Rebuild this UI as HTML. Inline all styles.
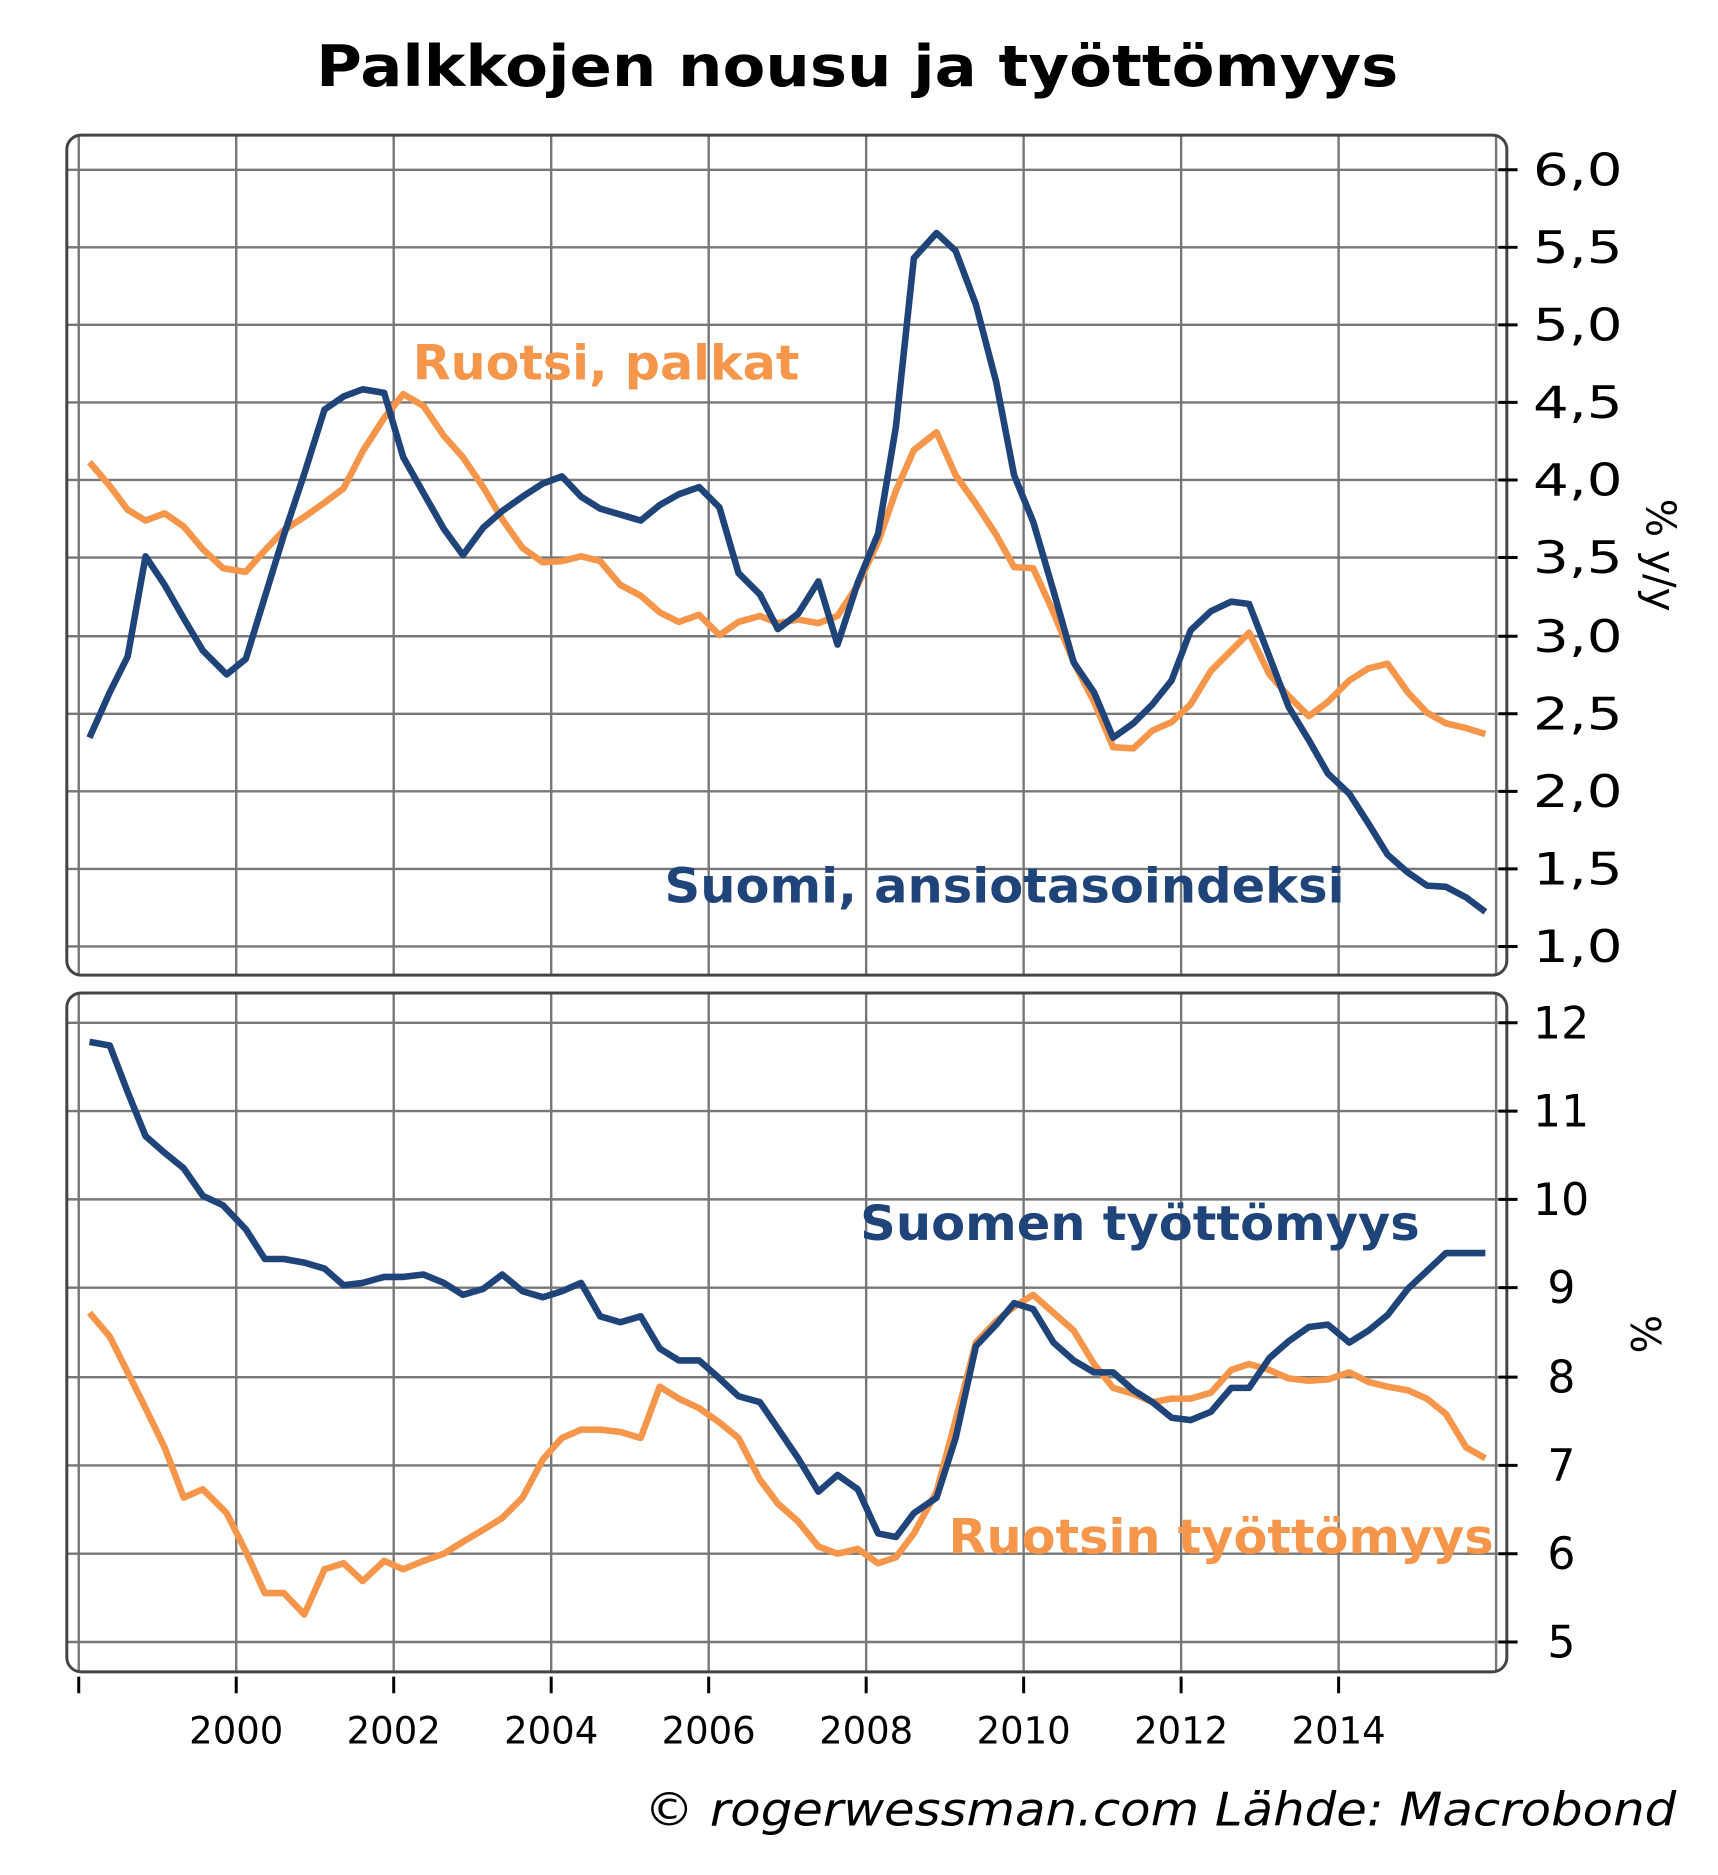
<!DOCTYPE html>
<html><head><meta charset="utf-8"><style>html,body{margin:0;padding:0;background:#fff}svg{display:block}</style></head><body>
<svg width="1718" height="1875" viewBox="0 0 1440 1571" xmlns="http://www.w3.org/2000/svg" font-family="DejaVu Sans, Liberation Sans, sans-serif">
<text x="265" y="72" textLength="907" lengthAdjust="spacingAndGlyphs" font-size="48" font-weight="bold">Palkkojen nousu ja työttömyys</text>
<g stroke="#777" stroke-width="2">
<line x1="56" x2="1263" y1="142" y2="142"/><line x1="56" x2="1263" y1="207" y2="207"/><line x1="56" x2="1263" y1="272" y2="272"/><line x1="56" x2="1263" y1="337" y2="337"/><line x1="56" x2="1263" y1="402" y2="402"/><line x1="56" x2="1263" y1="467" y2="467"/><line x1="56" x2="1263" y1="533" y2="533"/><line x1="56" x2="1263" y1="598" y2="598"/><line x1="56" x2="1263" y1="663" y2="663"/><line x1="56" x2="1263" y1="728" y2="728"/><line x1="56" x2="1263" y1="793" y2="793"/>
<line x1="56" x2="1263" y1="857" y2="857"/><line x1="56" x2="1263" y1="931" y2="931"/><line x1="56" x2="1263" y1="1005" y2="1005"/><line x1="56" x2="1263" y1="1079" y2="1079"/><line x1="56" x2="1263" y1="1154" y2="1154"/><line x1="56" x2="1263" y1="1228" y2="1228"/><line x1="56" x2="1263" y1="1302" y2="1302"/><line x1="56" x2="1263" y1="1376" y2="1376"/>
<path d="M66 113V817M198 113V817M330 113V817M462 113V817M594 113V817M726 113V817M858 113V817M990 113V817M1122 113V817M1254 113V817"/>
<path d="M66 832V1401M198 832V1401M330 832V1401M462 832V1401M594 832V1401M726 832V1401M858 832V1401M990 832V1401M1122 832V1401M1254 832V1401"/>
</g>
<rect x="56" y="113" width="1207" height="704" rx="12" fill="none" stroke="#444" stroke-width="2.5"/>
<rect x="56" y="832" width="1207" height="569" rx="12" fill="none" stroke="#444" stroke-width="2.5"/>
<g stroke="#000" stroke-width="2.5">
<path d="M1256 142h16M1256 207h16M1256 272h16M1256 337h16M1256 402h16M1256 467h16M1256 533h16M1256 598h16M1256 663h16M1256 728h16M1256 793h16"/>
<path d="M1256 857h16M1256 931h16M1256 1005h16M1256 1079h16M1256 1154h16M1256 1228h16M1256 1302h16M1256 1376h16"/>
<path d="M66 1405v14M198 1405v14M330 1405v14M462 1405v14M594 1405v14M726 1405v14M858 1405v14M990 1405v14M1122 1405v14"/>
</g>
<g font-size="37" fill="#000">
<text x="1285" y="155" textLength="75" lengthAdjust="spacingAndGlyphs">6,0</text>
<text x="1285" y="220" textLength="75" lengthAdjust="spacingAndGlyphs">5,5</text>
<text x="1285" y="285" textLength="75" lengthAdjust="spacingAndGlyphs">5,0</text>
<text x="1285" y="350" textLength="75" lengthAdjust="spacingAndGlyphs">4,5</text>
<text x="1285" y="415" textLength="75" lengthAdjust="spacingAndGlyphs">4,0</text>
<text x="1285" y="480" textLength="75" lengthAdjust="spacingAndGlyphs">3,5</text>
<text x="1285" y="546" textLength="75" lengthAdjust="spacingAndGlyphs">3,0</text>
<text x="1285" y="611" textLength="75" lengthAdjust="spacingAndGlyphs">2,5</text>
<text x="1285" y="676" textLength="75" lengthAdjust="spacingAndGlyphs">2,0</text>
<text x="1285" y="741" textLength="75" lengthAdjust="spacingAndGlyphs">1,5</text>
<text x="1285" y="806" textLength="75" lengthAdjust="spacingAndGlyphs">1,0</text>
<text x="1285" y="870">12</text><text x="1285" y="944">11</text><text x="1285" y="1018">10</text><text x="1297" y="1092">9</text><text x="1297" y="1167">8</text><text x="1297" y="1241">7</text><text x="1297" y="1315">6</text><text x="1297" y="1389">5</text>
</g>
<text transform="translate(1380,465) rotate(90)" text-anchor="middle" font-size="34">% y/y</text>
<text transform="translate(1367,1118) rotate(90)" text-anchor="middle" font-size="34">%</text>
<g font-size="31" text-anchor="middle">
<text x="198" y="1461">2000</text><text x="330" y="1461">2002</text><text x="462" y="1461">2004</text><text x="594" y="1461">2006</text><text x="726" y="1461">2008</text><text x="858" y="1461">2010</text><text x="990" y="1461">2012</text><text x="1122" y="1461">2014</text>
</g>
<g fill="none" stroke-width="5.5" stroke-linejoin="round">
<polyline stroke="#f5964a" points="75,387 92,407 107,427 122,436 138,430 154,441 170,460 187,476 206,479 222,461 238,444 255,433 272,421 288,409 304,378 322,350 338,330 355,340 372,365 388,383 405,408 421,435 438,459 455,471 471,470 487,466 503,470 520,490 537,499 553,513 569,521 586,515 603,532 619,521 637,516 652,522 669,519 686,522 702,516 719,490 736,454 751,411 766,377 785,362 801,398 818,422 835,448 850,475 866,476 883,513 900,555 917,588 933,626 950,627 966,612 982,605 998,590 1015,562 1032,545 1047,530 1064,565 1080,583 1097,600 1113,588 1131,570 1147,560 1163,556 1180,580 1196,597 1212,606 1229,610 1245,615"/>
<polyline stroke="#1f4479" points="75,618 92,580 107,550 122,466 138,490 154,518 170,545 190,565 206,552 222,500 238,448 255,397 272,343 288,332 304,326 322,329 338,383 355,413 372,443 388,465 405,442 421,428 438,416 455,405 471,399 487,416 503,426 520,431 537,436 553,423 569,414 586,408 603,425 619,480 637,498 652,527 669,514 686,487 702,540 719,488 736,447 751,357 766,216 785,195 801,210 818,255 835,320 850,398 866,437 883,495 900,555 917,580 933,618 950,606 966,590 982,570 998,528 1015,512 1032,504 1047,506 1064,550 1080,592 1097,620 1113,648 1131,665 1147,690 1163,716 1180,731 1196,742 1212,743 1229,752 1245,764"/>
<polyline stroke="#f5964a" points="75,1100 92,1120 107,1150 122,1180 138,1213 154,1255 170,1248 190,1268 206,1300 222,1335 238,1335 255,1353 272,1315 288,1310 304,1325 322,1308 338,1315 355,1308 372,1302 388,1292 405,1282 421,1272 438,1255 455,1223 471,1205 487,1198 503,1198 520,1200 537,1205 553,1162 569,1172 586,1180 603,1192 619,1205 637,1240 652,1260 669,1275 686,1296 702,1302 719,1298 736,1310 751,1305 766,1285 785,1250 801,1190 818,1125 835,1107 850,1095 866,1085 883,1100 900,1115 917,1143 933,1163 950,1168 966,1175 982,1172 998,1172 1015,1167 1032,1148 1047,1143 1064,1148 1080,1155 1097,1157 1113,1156 1131,1150 1147,1158 1163,1162 1180,1165 1196,1172 1212,1185 1229,1213 1245,1222"/>
<polyline stroke="#1f4479" points="75,873 92,876 107,915 122,952 138,966 154,979 170,1002 187,1010 206,1030 222,1055 238,1055 255,1058 272,1063 288,1077 304,1075 322,1070 338,1070 355,1068 372,1075 388,1085 405,1080 421,1068 438,1082 455,1087 471,1082 487,1075 503,1103 520,1108 537,1103 553,1130 569,1140 586,1140 603,1155 619,1170 637,1175 652,1197 669,1222 686,1250 702,1236 719,1248 736,1285 751,1288 766,1268 785,1255 801,1205 818,1128 835,1110 850,1092 866,1097 883,1125 900,1140 917,1150 933,1150 950,1165 966,1175 982,1188 998,1190 1015,1183 1032,1163 1047,1163 1064,1138 1080,1124 1097,1112 1113,1110 1131,1125 1147,1115 1163,1102 1180,1080 1196,1065 1212,1050 1229,1050 1245,1050"/>
</g>
<g font-size="40" font-weight="bold">
<text x="346" y="318" fill="#f5964a" textLength="324" lengthAdjust="spacingAndGlyphs">Ruotsi, palkat</text>
<text x="557" y="756" fill="#1f4479" textLength="570" lengthAdjust="spacingAndGlyphs">Suomi, ansiotasoindeksi</text>
<text x="721" y="1039" fill="#1f4479" textLength="469" lengthAdjust="spacingAndGlyphs">Suomen työttömyys</text>
<text x="795" y="1302" fill="#f5964a" textLength="457" lengthAdjust="spacingAndGlyphs">Ruotsin työttömyys</text>
</g>
<text x="540" y="1530" textLength="865" lengthAdjust="spacingAndGlyphs" font-size="39" font-style="italic">© rogerwessman.com Lähde: Macrobond</text>
</svg>
</body></html>
